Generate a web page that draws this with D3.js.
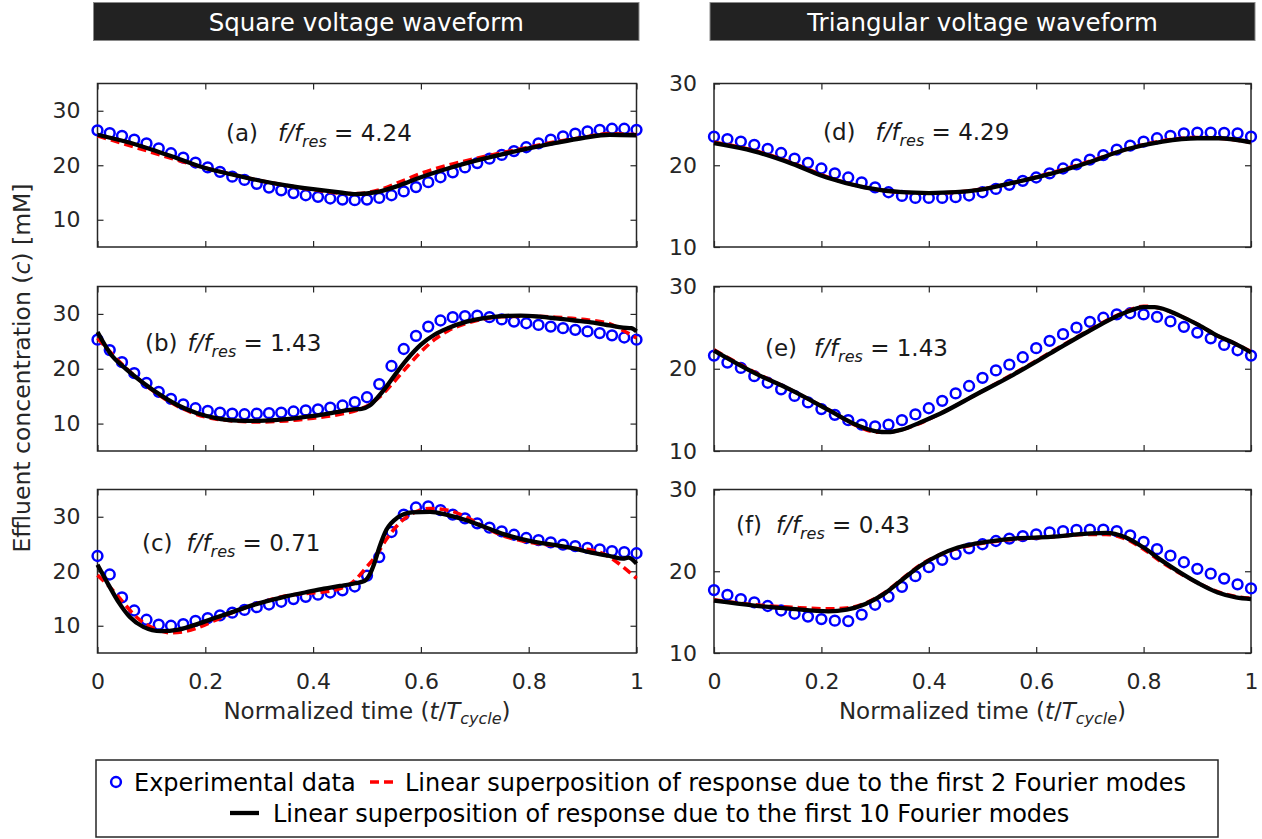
<!DOCTYPE html>
<html><head><meta charset="utf-8">
<script src="https://cdn.jsdelivr.net/npm/d3@7"></script>
<style>
body{margin:0;background:#fff}
svg{display:block;font-family:"DejaVu Sans",Verdana,sans-serif}
</style>
</head><body>
<svg id="chart" width="1262" height="839"></svg>
<script>
// ---------------- DATA ----------------
const columnTitles = ["Square voltage waveform", "Triangular voltage waveform"];
const panelLetters = ["(a)", "(b)", "(c)", "(d)", "(e)", "(f)"];
const freqRatios = ["4.24", "1.43", "0.71", "4.29", "1.43", "0.43"];
const xTickValues = [0, 0.2, 0.4, 0.6, 0.8, 1];
const yTickValues = [10, 20, 30];
const yDomainSquare = [5, 35];
const yDomainTriangle = [10, 30];
const legendLabels = ["Experimental data",
  "Linear superposition of response due to the first 2 Fourier modes",
  "Linear superposition of response due to the first 10 Fourier modes"];

// experimental data (evenly sampled over one normalized cycle)
const expA = [26.4,25.9,25.4,24.7,24.0,23.1,22.2,21.4,20.5,19.6,18.8,17.9,17.3,16.6,15.9,15.4,14.9,14.5,14.2,13.9,13.7,13.6,13.7,14.0,14.5,15.2,16.0,16.9,17.8,18.7,19.6,20.4,21.2,21.9,22.6,23.3,24.0,24.7,25.3,25.8,26.2,26.5,26.7,26.7,26.5];
const expB = [25.3,23.4,21.2,19.2,17.4,15.8,14.5,13.5,12.8,12.3,12.0,11.8,11.7,11.8,11.9,12.0,12.2,12.4,12.6,12.9,13.3,13.9,14.8,17.2,20.5,23.6,26.0,27.7,28.8,29.4,29.6,29.7,29.4,29.0,28.6,28.3,28.0,27.7,27.4,27.1,26.8,26.5,26.1,25.7,25.3];
const expC = [22.8,19.4,15.2,12.8,11.1,10.2,10.0,10.3,10.9,11.4,11.9,12.4,12.9,13.4,13.9,14.4,14.9,15.3,15.7,16.1,16.5,17.2,19.2,22.6,27.2,30.4,31.7,31.9,31.2,30.4,29.7,28.8,28.0,27.3,26.7,26.1,25.7,25.3,24.9,24.6,24.3,24.0,23.7,23.5,23.3];
const expD = [23.5,23.2,22.9,22.5,22.0,21.5,20.8,20.3,19.6,19.0,18.5,17.9,17.3,16.7,16.25,16.0,16.0,16.0,16.1,16.3,16.7,17.1,17.6,18.1,18.5,19.0,19.6,20.1,20.7,21.25,21.9,22.4,22.9,23.3,23.6,23.9,24.0,24.0,23.95,23.9,23.5];
const expE = [21.6,20.75,20.1,19.1,18.3,17.5,16.7,15.9,15.1,14.4,13.75,13.2,13.0,13.2,13.75,14.45,15.2,16.1,17.0,17.9,18.9,19.8,20.5,21.4,22.5,23.4,24.2,25.0,25.7,26.2,26.6,26.75,26.6,26.3,25.75,25.1,24.4,23.7,22.9,22.25,21.6];
const expF = [17.7,17.1,16.6,16.2,15.75,15.2,14.8,14.45,14.15,13.95,13.9,14.7,15.9,16.9,18.1,19.4,20.5,21.4,22.1,22.8,23.3,23.7,24.0,24.3,24.5,24.75,24.9,25.05,25.1,25.1,24.9,24.4,23.6,22.7,21.9,21.1,20.3,19.7,19.1,18.4,17.9];

// first 2 Fourier modes  [t, c]
const red2A = [[0,25.4],[0.05,23.9],[0.1,22.4],[0.15,20.9],[0.2,19.5],[0.25,18.3],[0.3,17.2],[0.35,16.3],[0.4,15.5],[0.45,14.9],[0.48,14.8],[0.52,15.4],[0.56,16.9],[0.6,18.5],[0.65,20.0],[0.7,21.2],[0.75,22.3],[0.8,23.3],[0.85,24.3],[0.9,25.1],[0.95,25.8],[1,25.6]];
const red2B = [[0,25.6],[0.025,22.9],[0.05,20.4],[0.075,18.2],[0.1,16.2],[0.125,14.5],[0.15,13.1],[0.175,12.0],[0.2,11.2],[0.25,10.5],[0.3,10.3],[0.35,10.5],[0.4,11.0],[0.45,11.7],[0.48,12.4],[0.5,13.2],[0.525,15.0],[0.55,17.6],[0.575,20.4],[0.6,23.1],[0.625,25.3],[0.65,26.9],[0.7,28.7],[0.75,29.5],[0.8,29.6],[0.85,29.4],[0.9,29.0],[0.95,28.2],[0.975,27.0],[1,25.6]];
const red2C = [[0,19.3],[0.02,17.4],[0.045,14.6],[0.072,11.6],[0.105,9.5],[0.138,8.7],[0.165,9.0],[0.185,9.6],[0.218,11.0],[0.25,12.4],[0.285,13.7],[0.318,14.7],[0.35,15.5],[0.385,15.9],[0.418,16.2],[0.45,16.8],[0.477,18.3],[0.497,20.5],[0.517,22.9],[0.537,26.0],[0.563,29.1],[0.59,30.9],[0.617,31.5],[0.65,31.2],[0.683,30.0],[0.716,28.2],[0.75,26.6],[0.783,25.7],[0.816,25.1],[0.85,24.7],[0.883,24.2],[0.916,23.9],[0.95,22.6],[0.975,20.8],[1,18.7]];
const red2D = [[0,22.8],[0.075,21.8],[0.145,20.3],[0.21,18.6],[0.28,17.3],[0.35,16.7],[0.4,16.6],[0.45,16.7],[0.49,17.0],[0.56,17.9],[0.63,19.1],[0.7,20.5],[0.765,21.9],[0.835,23.0],[0.9,23.4],[0.94,23.3],[1,22.8]];
const red2E = [[0,22.3],[0.075,19.6],[0.144,17.4],[0.213,15.0],[0.268,13.0],[0.302,12.3],[0.323,12.3],[0.35,12.6],[0.385,13.4],[0.42,14.5],[0.489,16.9],[0.558,19.4],[0.627,22.0],[0.696,24.6],[0.765,26.9],[0.8,27.6],[0.82,27.5],[0.869,26.4],[0.903,25.3],[0.938,24.0],[0.972,23.0],[1,22.1]];
const red2F = [[0,16.5],[0.075,15.9],[0.144,15.6],[0.213,15.4],[0.247,15.5],[0.282,16.1],[0.316,17.3],[0.351,19.1],[0.385,20.8],[0.42,22.0],[0.454,22.8],[0.489,23.3],[0.558,23.9],[0.627,24.2],[0.696,24.5],[0.73,24.5],[0.765,24.0],[0.8,22.7],[0.834,21.1],[0.869,19.7],[0.903,18.5],[0.938,17.5],[0.972,16.9],[1,16.7]];

// first 10 Fourier modes  [t, c]
const black10A = [[0,25.6],[0.05,24.4],[0.1,22.9],[0.15,21.2],[0.2,19.5],[0.25,18.3],[0.3,17.2],[0.35,16.3],[0.4,15.6],[0.45,15.0],[0.48,14.7],[0.52,15.1],[0.56,16.3],[0.6,17.8],[0.65,19.4],[0.7,20.8],[0.75,22.0],[0.8,23.1],[0.85,24.1],[0.9,25.0],[0.95,25.6],[1,25.5]];
const black10B = [[0,26.7],[0.025,22.6],[0.05,20.2],[0.085,17.4],[0.12,15.0],[0.15,13.3],[0.185,11.9],[0.22,11.0],[0.25,10.6],[0.3,10.5],[0.35,10.8],[0.4,11.4],[0.45,12.2],[0.475,12.6],[0.49,12.7],[0.505,13.3],[0.52,14.8],[0.535,16.6],[0.555,19.3],[0.575,21.8],[0.6,24.4],[0.625,26.2],[0.65,27.4],[0.685,28.6],[0.72,29.3],[0.75,29.6],[0.785,29.7],[0.82,29.5],[0.85,29.2],[0.885,28.8],[0.92,28.4],[0.95,27.9],[0.975,27.5],[0.99,27.4],[1,26.8]];
const black10C = [[0,21.2],[0.02,17.6],[0.04,14.2],[0.06,11.6],[0.085,9.8],[0.118,9.0],[0.15,9.3],[0.185,10.3],[0.22,11.5],[0.25,12.5],[0.285,13.7],[0.318,14.6],[0.35,15.4],[0.385,16.1],[0.42,16.8],[0.45,17.3],[0.478,17.8],[0.495,18.2],[0.505,19.4],[0.513,21.3],[0.523,24.4],[0.536,27.6],[0.556,29.8],[0.584,30.8],[0.617,30.9],[0.65,30.3],[0.683,29.4],[0.716,28.2],[0.75,26.9],[0.783,26.0],[0.816,25.3],[0.85,24.8],[0.883,24.2],[0.916,23.4],[0.95,22.8],[0.975,22.3],[0.985,22.5],[1,21.4]];
const black10D = [[0,22.7],[0.075,21.7],[0.145,20.2],[0.21,18.5],[0.28,17.3],[0.35,16.7],[0.4,16.6],[0.45,16.7],[0.49,16.95],[0.56,17.9],[0.63,19.0],[0.7,20.4],[0.765,21.9],[0.835,22.9],[0.9,23.3],[0.94,23.3],[1,22.8]];
const black10E = [[0,22.2],[0.075,19.5],[0.144,17.4],[0.213,15.0],[0.268,13.1],[0.302,12.4],[0.323,12.3],[0.35,12.6],[0.385,13.5],[0.42,14.5],[0.489,16.9],[0.558,19.3],[0.627,21.9],[0.696,24.5],[0.765,26.8],[0.8,27.5],[0.82,27.5],[0.869,26.4],[0.903,25.3],[0.938,24.0],[0.972,23.0],[1,22.0]];
const black10F = [[0,16.4],[0.075,15.8],[0.144,15.4],[0.213,15.1],[0.247,15.3],[0.282,16.0],[0.316,17.2],[0.351,19.0],[0.385,20.7],[0.42,22.0],[0.454,22.9],[0.489,23.4],[0.558,24.0],[0.627,24.2],[0.696,24.6],[0.73,24.7],[0.765,24.2],[0.8,22.9],[0.834,21.3],[0.869,19.8],[0.903,18.5],[0.938,17.4],[0.972,16.8],[1,16.6]];

// ---------------- LAYOUT ----------------
const svg = d3.select("#chart");
const colX = [[97.5, 636.5], [714, 1251]];
const rowY = [[83.5, 247], [286.5, 451], [489.5, 653]];
const annPos = [[226, 141, 20], [145, 351, 10], [142, 551, 14], [823, 140, 20], [765, 356, 17], [736, 533, 14]];
const axisColor = "#262626";

const panels = [
  {col:0,row:0,exp:expA,red:red2A,black:black10A,dom:yDomainSquare},
  {col:0,row:1,exp:expB,red:red2B,black:black10B,dom:yDomainSquare},
  {col:0,row:2,exp:expC,red:red2C,black:black10C,dom:yDomainSquare},
  {col:1,row:0,exp:expD,red:red2D,black:black10D,dom:yDomainTriangle},
  {col:1,row:1,exp:expE,red:red2E,black:black10E,dom:yDomainTriangle},
  {col:1,row:2,exp:expF,red:red2F,black:black10F,dom:yDomainTriangle}
];

// column header boxes
const headerBoxes = [[93.5, 639], [710, 1255]];
headerBoxes.forEach((b, i) => {
  svg.append("rect").attr("x", b[0]).attr("y", 2.5).attr("width", b[1]-b[0]).attr("height", 38)
    .attr("fill", "#222222").attr("stroke", "#8a8a8a").attr("stroke-width", 1);
  svg.append("text").attr("x", (b[0]+b[1])/2).attr("y", 30.5).attr("text-anchor", "middle")
    .attr("fill", "#ffffff").attr("font-size", 24.5).text(columnTitles[i]);
});

function styleAxis(g){
  g.select(".domain").remove();
  g.selectAll(".tick line").attr("stroke", axisColor).attr("stroke-width", 1.2);
  g.selectAll(".tick text").attr("fill", axisColor).attr("font-size", 22).attr("font-family", '"DejaVu Sans",Verdana,sans-serif');
}

panels.forEach((p, k) => {
  const [X0, X1] = colX[p.col];
  const [Y0, Y1] = rowY[p.row];
  const x = d3.scaleLinear().domain([0, 1]).range([X0, X1]);
  const y = d3.scaleLinear().domain(p.dom).range([Y1, Y0]);
  const g = svg.append("g");

  // frame
  g.append("rect").attr("x", X0).attr("y", Y0).attr("width", X1-X0).attr("height", Y1-Y0)
    .attr("fill", "none").attr("stroke", axisColor).attr("stroke-width", 1.5);

  // axes (ticks inward)
  g.append("g").attr("transform", `translate(${X0},0)`)
    .call(d3.axisLeft(y).tickValues(yTickValues).tickSize(-6).tickPadding(17).tickFormat(d3.format("d")))
    .call(styleAxis);
  g.append("g").attr("transform", `translate(${X1},0)`)
    .call(d3.axisRight(y).tickValues(yTickValues).tickSize(-6).tickFormat(""))
    .call(styleAxis);
  const bottom = d3.axisBottom(x).tickValues(xTickValues).tickSize(-6).tickPadding(20)
    .tickFormat(p.row === 2 ? d3.format("") : "");
  g.append("g").attr("transform", `translate(0,${Y1})`).call(bottom).call(styleAxis);
  g.append("g").attr("transform", `translate(0,${Y0})`)
    .call(d3.axisTop(x).tickValues(xTickValues).tickSize(-6).tickFormat(""))
    .call(styleAxis);

  // experimental circles
  const n = p.exp.length;
  g.append("g").selectAll("circle").data(p.exp).join("circle")
    .attr("cx", (d, i) => x(i/(n-1))).attr("cy", d => y(d)).attr("r", 4.9)
    .attr("fill", "none").attr("stroke", "#0000ff").attr("stroke-width", 2.5);

  const line = d3.line().x(d => x(d[0])).y(d => y(d[1])).curve(d3.curveMonotoneX);
  g.append("path").attr("d", line(p.red)).attr("fill", "none").attr("stroke", "#ff0000")
    .attr("stroke-width", 3.6).attr("stroke-dasharray", "9,5");
  g.append("path").attr("d", line(p.black)).attr("fill", "none").attr("stroke", "#000000")
    .attr("stroke-width", 4.3).attr("stroke-linejoin", "round");

  // annotation
  const a = annPos[k];
  const t = g.append("text").attr("x", a[0]).attr("y", a[1]).attr("font-size", 23).attr("fill", "#1a1a1a");
  t.append("tspan").text(panelLetters[k]);
  t.append("tspan").attr("dx", a[2]).attr("font-style", "italic").text("f/f");
  t.append("tspan").attr("font-style", "italic").attr("font-size", 16).attr("dy", 6).text("res");
  t.append("tspan").attr("dy", -6).text(" = " + freqRatios[k]);

  // x-axis title for bottom row
  if (p.row === 2) {
    const xt = g.append("text").attr("x", (X0+X1)/2).attr("y", 719).attr("text-anchor", "middle")
      .attr("font-size", 23).attr("fill", axisColor);
    xt.append("tspan").text("Normalized time (");
    xt.append("tspan").attr("font-style", "italic").text("t");
    xt.append("tspan").text("/");
    xt.append("tspan").attr("font-style", "italic").text("T");
    xt.append("tspan").attr("font-style", "italic").attr("font-size", 16).attr("dy", 5).text("cycle");
    xt.append("tspan").attr("dy", -5).text(")");
  }
});

// y-axis title
const yt = svg.append("text").attr("transform", "translate(30,368) rotate(-90)")
  .attr("text-anchor", "middle").attr("font-size", 23.5).attr("fill", axisColor);
yt.append("tspan").text("Effluent concentration (");
yt.append("tspan").attr("font-style", "italic").text("c");
yt.append("tspan").text(") [mM]");

// legend
const lg = svg.append("g");
lg.append("rect").attr("x", 96).attr("y", 760).attr("width", 1122).attr("height", 77)
  .attr("fill", "#ffffff").attr("stroke", "#262626").attr("stroke-width", 1.5);
lg.append("circle").attr("cx", 116).attr("cy", 782).attr("r", 4.9)
  .attr("fill", "none").attr("stroke", "#0000ff").attr("stroke-width", 2.5);
lg.append("text").attr("x", 134).attr("y", 791).attr("font-size", 24).attr("fill", "#000").text(legendLabels[0]);
lg.append("line").attr("x1", 370).attr("x2", 397).attr("y1", 782).attr("y2", 782)
  .attr("stroke", "#ff0000").attr("stroke-width", 3.6).attr("stroke-dasharray", "9,5");
lg.append("text").attr("x", 405).attr("y", 791).attr("font-size", 24).attr("fill", "#000").text(legendLabels[1]);
lg.append("line").attr("x1", 230).attr("x2", 259).attr("y1", 813).attr("y2", 813)
  .attr("stroke", "#000").attr("stroke-width", 4.3);
lg.append("text").attr("x", 273).attr("y", 822).attr("font-size", 24).attr("fill", "#000").text(legendLabels[2]);
</script>
</body></html>
